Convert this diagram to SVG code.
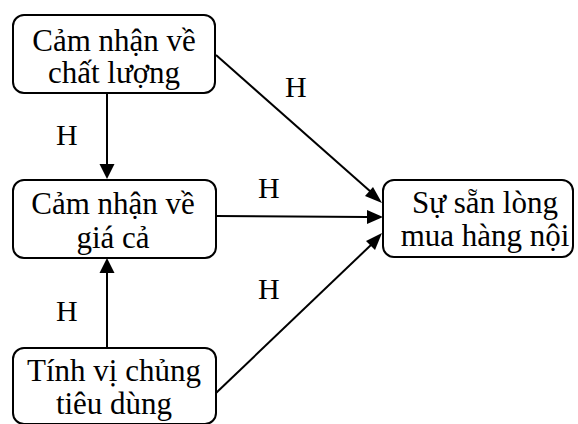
<svg xmlns="http://www.w3.org/2000/svg" width="578" height="424" viewBox="0 0 578 424">
  <style>
    .box { fill: #ffffff; stroke: #000000; stroke-width: 2; }
    .lbl { font-size: 31px; fill: #000000; text-anchor: middle; }
    .h { font-size: 30px; fill: #000000; }
    .stem { stroke: #000000; stroke-width: 2; fill: none; }
    .head { fill: #000000; }
  </style>
  <rect width="578" height="424" fill="#ffffff"/>

  <g id="connectors">
    <line class="stem" x1="107" y1="93" x2="107" y2="166"/>
    <path class="head" d="M99.5,164 L114.5,164 L107,179 Z"/>
    <line class="stem" x1="107" y1="348" x2="107" y2="271"/>
    <path class="head" d="M99.5,273 L114.5,273 L107,258 Z"/>
    <line class="stem" x1="216" y1="55" x2="371" y2="192"/>
    <path class="head" d="M382,203 L365,196 L373,187 Z"/>
    <line class="stem" x1="216" y1="216" x2="368" y2="217"/>
    <path class="head" d="M383,217 L367,210 L367,224 Z"/>
    <line class="stem" x1="216" y1="393" x2="372" y2="244"/>
    <path class="head" d="M382,233 L375,250 L366,241 Z"/>
    <g font-family="'Liberation Serif', 'DejaVu Serif', serif">
      <text class="h" x="56" y="145">H</text>
      <text class="h" x="56" y="321">H</text>
      <text class="h" x="285" y="97">H</text>
      <text class="h" x="258" y="198">H</text>
      <text class="h" x="258" y="299">H</text>
    </g>
  </g>

  <g font-family="'Liberation Serif', 'DejaVu Serif', serif">
    <g id="quality">
      <rect class="box" x="13" y="15" width="202" height="78" rx="11"/>
      <text class="lbl" x="114" y="51">Cảm nhận về</text>
      <text class="lbl" x="114" y="83">chất lượng</text>
    </g>

    <g id="price">
      <rect class="box" x="13" y="180" width="203" height="78" rx="11"/>
      <text class="lbl" x="113" y="214">Cảm nhận về</text>
      <text class="lbl" x="113" y="248">giá cả</text>
    </g>

    <g id="ethnocentrism">
      <rect class="box" x="13" y="348" width="203" height="76" rx="11"/>
      <text class="lbl" x="114" y="381">Tính vị chủng</text>
      <text class="lbl" x="114" y="414">tiêu dùng</text>
    </g>

    <g id="willingness">
      <rect class="box" x="383" y="180" width="190" height="77" rx="11"/>
      <text class="lbl" x="485" y="213">Sự sẵn lòng</text>
      <text class="lbl" x="485" y="246">mua hàng nội</text>
    </g>
  </g>
</svg>
